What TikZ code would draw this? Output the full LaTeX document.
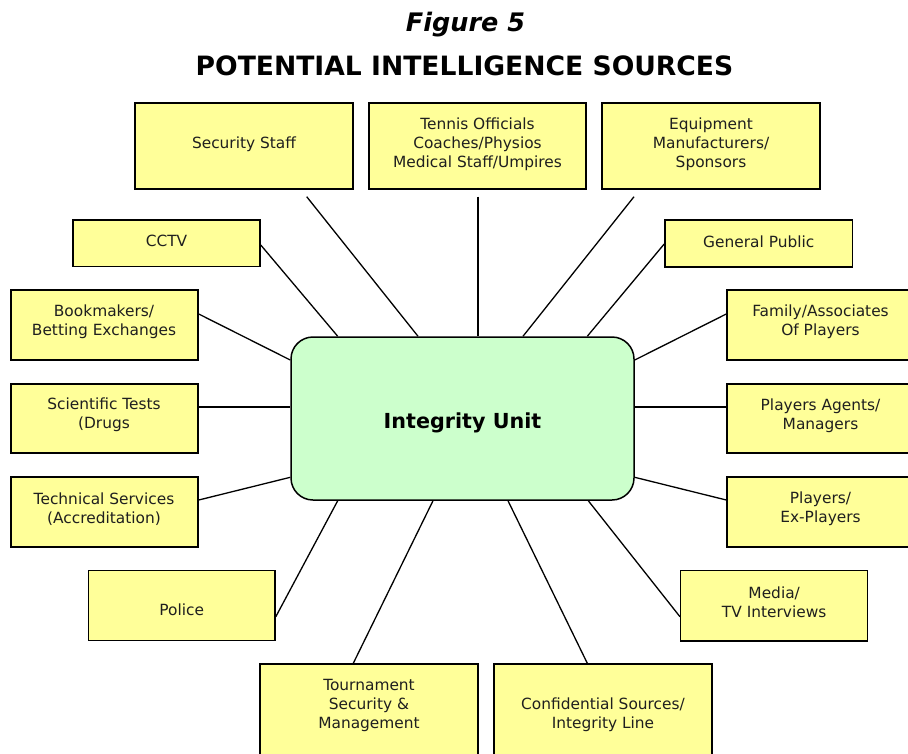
\documentclass[tikz,border=0pt]{standalone}
\usepackage{fontspec}
\setmainfont{DejaVu Sans}
\definecolor{boxyellow}{HTML}{FFFF99}
\definecolor{unitgreen}{HTML}{CCFFCC}
\tikzset{
  srcbox/.style={draw=black, line width=1.5pt, fill=boxyellow, inner sep=0pt},
  srctxt/.style={font=\fontsize{15.4}{19}\selectfont, align=center, inner sep=0pt, text=black!88},
  unitbox/.style={draw=black, line width=1.5pt, fill=unitgreen, rounded corners=22pt, inner sep=0pt,
                  minimum width=343pt, minimum height=163pt},
  link/.style={line width=1.3pt, draw=black},
}
\begin{document}
\begin{tikzpicture}[x=1pt,y=-1pt]
\useasboundingbox (0,0) rectangle (908,753);
\begin{scope}
\clip (0,0) rectangle (908,753);
% title
\node[anchor=base, font=\fontsize{25.5}{30}\selectfont\bfseries\itshape, inner sep=0pt] (fig) at (465.5,31.7) {Figure 5};
\node[anchor=base, font=\fontsize{26.6}{30}\selectfont\bfseries, inner sep=0pt] (title) at (464.5,75) {POTENTIAL INTELLIGENCE SOURCES};
% central unit
\node[unitbox] (iu) at (462.5,418.5) {};
\node[anchor=base, font=\fontsize{20.7}{24}\selectfont\bfseries, inner sep=0pt] (iut) at (462.5,428.3) {Integrity Unit};
% source boxes
\node[srcbox, minimum width=218pt, minimum height=86pt] (ss) at (244,146) {};
\node[srcbox, minimum width=217pt, minimum height=86pt] (to) at (477.5,146) {};
\node[srcbox, minimum width=218pt, minimum height=86pt] (eq) at (711,146) {};
\node[srcbox, minimum width=187pt, minimum height=46.7pt] (cctv) at (166.5,243.3) {};
\node[srcbox, minimum width=187.7pt, minimum height=47pt] (gp) at (758.8,243.5) {};
\node[srcbox, minimum width=187pt, minimum height=70pt] (bk) at (104.5,325) {};
\node[srcbox, minimum width=187pt, minimum height=70pt] (fa) at (820.5,325) {};
\node[srcbox, minimum width=187pt, minimum height=69pt] (sc) at (104.5,418.5) {};
\node[srcbox, minimum width=187pt, minimum height=69pt] (pa) at (820.5,418.5) {};
\node[srcbox, minimum width=187pt, minimum height=70pt] (ts) at (104.5,512) {};
\node[srcbox, minimum width=187pt, minimum height=70pt] (pl) at (820.5,512) {};
\node[srcbox, minimum width=186.7pt, minimum height=70pt] (po) at (181.7,605.7) {};
\node[srcbox, minimum width=187pt, minimum height=70.3pt] (me) at (774.2,605.8) {};
\node[srcbox, minimum width=218pt, minimum height=92pt] (tm) at (369,710) {};
\node[srcbox, minimum width=218pt, minimum height=92pt] (cs) at (603,710) {};
% texts
\node[srctxt] (ss-t) at (244,144) {Security Staff};
\node[srctxt] (to-t) at (477.5,144) {Tennis Officials\\Coaches/Physios\\Medical Staff/Umpires};
\node[srctxt] (eq-t) at (711,144) {Equipment\\Manufacturers/\\Sponsors};
\node[srctxt] (cctv-t) at (166.5,240.8) {CCTV};
\node[srctxt] (gp-t) at (758.8,241.5) {General Public};
\node[srctxt] (bk-t) at (104,322) {Bookmakers/\\Betting Exchanges};
\node[srctxt] (fa-t) at (820.5,321.8) {Family/Associates\\Of Players};
\node[srctxt] (sc-t) at (104,415.2) {Scientific Tests\\(Drugs};
\node[srctxt] (pa-t) at (820.5,415.5) {Players Agents/\\Managers};
\node[srctxt] (ts-t) at (104,508.8) {Technical Services\\(Accreditation)};
\node[srctxt] (pl-t) at (820.5,508.8) {Players/\\Ex-Players};
\node[srctxt] (po-t) at (181.7,609.5) {Police};
\node[srctxt] (me-t) at (774.2,602) {Media/\\TV Interviews};
\node[srctxt] (tm-t) at (369,705) {Tournament\\Security \&\\Management};
\node[srctxt] (cs-t) at (603,714.5) {Confidential Sources/\\Integrity Line};
% free ends of the top connectors
\coordinate (ss-end) at (306.7,196.7);
\coordinate (to-end) at (478,196.7);
\coordinate (eq-end) at (634,196.7);
% connectors
\draw[link] (ss-end) -- (iu.north -| 418,0);
\draw[link] (to-end) -- (iu.north -| 478,0);
\draw[link] (eq-end) -- (iu.north -| 523,0);
\draw[link] (cctv.east |- 0,245) -- (iu.north -| 337.7,0);
\draw[link] (gp.west |- 0,244) -- (iu.north -| 587.3,0);
\draw[link] (bk.east |- 0,314) -- (iu.west |- 0,360);
\draw[link] (fa.west |- 0,314) -- (iu.east |- 0,360);
\draw[link] (sc.east |- 0,407) -- (iu.west |- 0,407);
\draw[link] (pa.west |- 0,407) -- (iu.east |- 0,407);
\draw[link] (ts.east |- 0,500) -- (iu.west |- 0,477.3);
\draw[link] (pl.west |- 0,500) -- (iu.east |- 0,477.3);
\draw[link] (po.east |- 0,616.7) -- (iu.south -| 337.7,0);
\draw[link] (me.west |- 0,616.7) -- (iu.south -| 588.3,0);
\draw[link] (tm.north -| 353.3,0) -- (iu.south -| 433,0);
\draw[link] (cs.north -| 587.3,0) -- (iu.south -| 508,0);
\end{scope}
\end{tikzpicture}
\end{document}
